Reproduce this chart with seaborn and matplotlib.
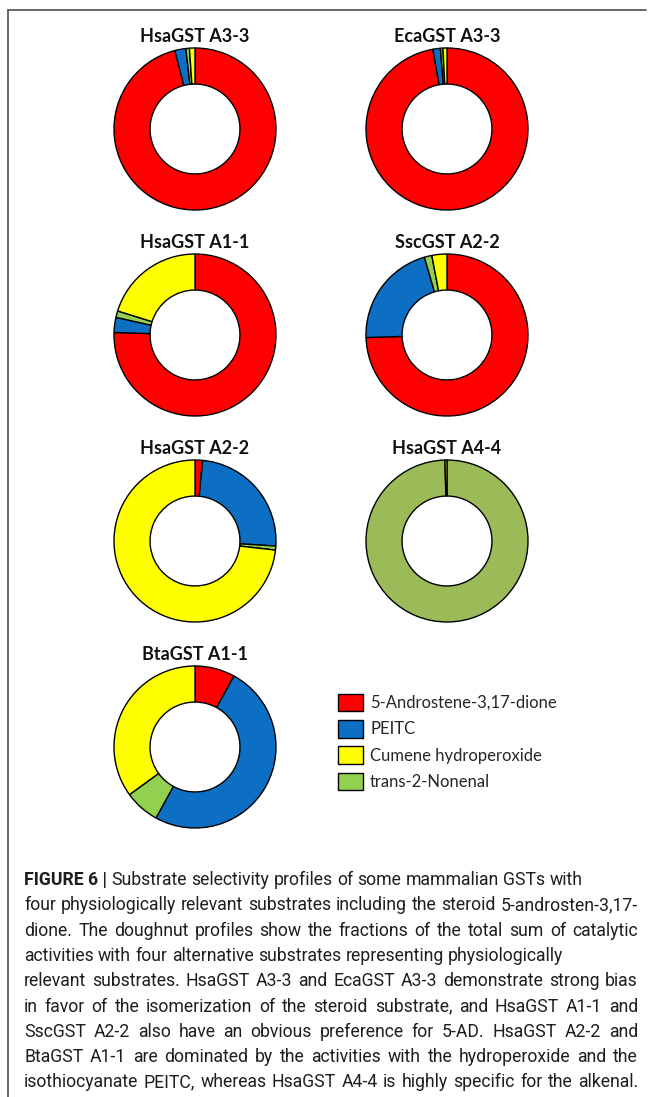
import matplotlib
matplotlib.use("Agg")
import matplotlib.pyplot as plt
import seaborn as sns
from matplotlib.lines import Line2D

######## data (percent of total activity, clockwise from 12 o'clock) ########
enzymes = ["HsaGST A3-3", "EcaGST A3-3", "HsaGST A1-1", "SscGST A2-2",
           "HsaGST A2-2", "HsaGST A4-4", "BtaGST A1-1"]
substrates = ["5-Androstene-3,17-dione", "PEITC", "Cumene hydroperoxide", "trans-2-Nonenal"]

androstenedione = [96.0, 97.2, 75.5, 74.5, 1.5, 0.0, 8.0]
peitc = [2.2, 1.5, 3.0, 21.0, 24.5, 0.0, 50.0]
nonenal = [0.7, 0.5, 1.3, 1.5, 0.8, 99.6, 7.0]
cumene = [1.1, 0.8, 20.2, 3.0, 73.2, 0.4, 35.0]

caption_lines = [
    "Substrate selectivity profiles of some mammalian GSTs with",
    "four physiologically relevant substrates including the steroid 5-androsten-3,17-",
    "dione. The doughnut profiles show the fractions of the total sum of catalytic",
    "activities with four alternative substrates representing physiologically",
    "relevant substrates. HsaGST A3-3 and EcaGST A3-3 demonstrate strong bias",
    "in favor of the isomerization of the steroid substrate, and HsaGST A1-1 and",
    "SscGST A2-2 also have an obvious preference for 5-AD. HsaGST A2-2 and",
    "BtaGST A1-1 are dominated by the activities with the hydroperoxide and the",
    "isothiocyanate PEITC, whereas HsaGST A4-4 is highly specific for the alkenal.",
]

######## style ########
sns.set_theme(style="white")
plt.rcParams["font.family"] = ["Lato", "DejaVu Sans"]

red, blue, yellow, green = sns.color_palette(["#FF0000", "#0C6FC4", "#FFFF00", "#92D050"])
olive = "#9BBB59"

W, H = 654, 1097
fig = plt.figure(figsize=(W / 100, H / 100), dpi=100)
fig.patch.set_facecolor("white")

# frame lines of the figure panel
fig.add_artist(Line2D([8 / W, 646 / W], [1 - 10 / H, 1 - 10 / H], color="#5a5a5a", lw=1.3))
fig.add_artist(Line2D([8 / W, 8 / W], [1 - 10 / H, 0], color="#5a5a5a", lw=1.3))

col_x = [195, 447]
row_y = [129, 335, 541, 747]
R = 81          # outer radius in px
S = 2.3 * R     # axes size in px

legend_wedges = None
for i, name in enumerate(enzymes):
    cx = col_x[i % 2]
    cy = row_y[i // 2]
    ax = fig.add_axes([(cx - S / 2) / W, (H - cy - S / 2) / H, S / W, S / H])
    vals = [androstenedione[i], peitc[i], nonenal[i], cumene[i]]
    cols = [red, blue, olive if name == "HsaGST A4-4" else green, yellow]
    wedges, _ = ax.pie(vals, colors=cols, startangle=90, counterclock=False,
                       radius=1.0,
                       wedgeprops=dict(width=0.445, edgecolor="black", linewidth=1.0))
    ax.set_xlim(-1.15, 1.15)
    ax.set_ylim(-1.15, 1.15)
    ax.set_aspect("equal")
    ax.axis("off")
    fig.text(cx / W, 1 - (cy - 93) / H, name, ha="center", va="center",
             fontsize=13, fontweight="bold", color="#111111")
    if name == "BtaGST A1-1":
        legend_wedges = wedges

handles = [legend_wedges[0], legend_wedges[1], legend_wedges[3], legend_wedges[2]]
fig.legend(handles=handles, labels=substrates, loc="upper left",
           bbox_to_anchor=(331 / W, 1 - 687 / H), frameon=False,
           fontsize=12, handlelength=1.5, handleheight=1.25,
           handletextpad=0.45, labelspacing=0.52, borderaxespad=0)

######## caption, justified by hand ########
cap_font = ["Roboto", "Liberation Sans", "DejaVu Sans"]
x_left, x_right = 24, 638
y0, dy = 880, 25.3
renderer = fig.canvas.get_renderer()


def width(s, size, weight="normal"):
    t = fig.text(0, 0, s, family=cap_font, fontsize=size, fontweight=weight)
    w = t.get_window_extent(renderer).width
    t.remove()
    return w


# pick the size so that the first (ragged) line is as long as in the figure
first = "FIGURE 6 | " + caption_lines[0]
cap_size = 10 * 562 / width(first, 10)
cap_size = min(cap_size, 10 * (x_right - x_left - 4) / max(width(l, 10) for l in caption_lines))

space = width("x x", cap_size) - width("xx", cap_size)
ragged = {0, 3}
for k, line in enumerate(caption_lines):
    words = [(w, "normal") for w in line.split()]
    if k == 0:
        words = [("FIGURE 6 |", "bold")] + words
    widths = [width(w, cap_size, wt) for w, wt in words]
    gap = space
    if k not in ragged and len(words) > 1:
        gap = max(space * 0.8, (x_right - x_left - sum(widths)) / (len(words) - 1))
    x = x_left
    y = y0 + k * dy
    for (w, wt), ww in zip(words, widths):
        fig.text(x / W, 1 - y / H, w, family=cap_font, fontsize=cap_size,
                 fontweight=wt, ha="left", va="center", color="#1e1e1e")
        x += ww + gap

fig.savefig("out.png", dpi=100, facecolor="white")
